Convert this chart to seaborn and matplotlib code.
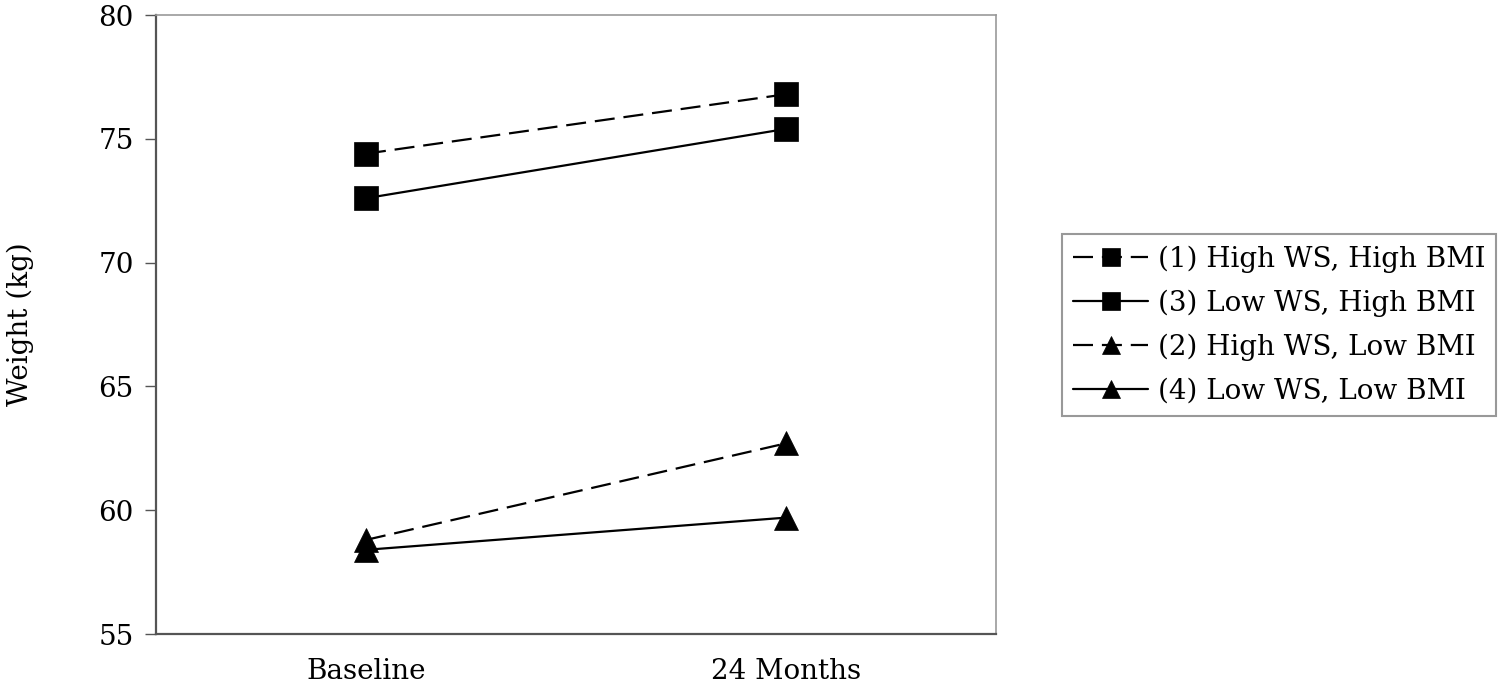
import matplotlib
matplotlib.use('Agg')
import matplotlib.pyplot as plt
import seaborn as sns
import pandas as pd
from matplotlib.ticker import FixedLocator

# data
timepoints = ['Baseline', '24 Months']
groups = ['(1) High WS, High BMI', '(3) Low WS, High BMI',
          '(2) High WS, Low BMI', '(4) Low WS, Low BMI']
hw_hb = [74.4, 76.8]
lw_hb = [72.6, 75.4]
hw_lb = [58.8, 62.7]
lw_lb = [58.4, 59.7]

series = [hw_hb, lw_hb, hw_lb, lw_lb]
df = pd.DataFrame({
    'time': timepoints * len(groups),
    'group': [g for g in groups for _ in timepoints],
    'weight': [v for s in series for v in s],
})

sns.set_style('white')
plt.rcParams['font.family'] = ['DejaVu Serif']
plt.rcParams['text.color'] = 'black'
plt.rcParams['axes.labelcolor'] = 'black'
plt.rcParams['xtick.labelcolor'] = 'black'
plt.rcParams['ytick.labelcolor'] = 'black'

fs = 20
fig = plt.figure(figsize=(15, 6.85), dpi=100)
ax = fig.add_axes([156 / 1500, 1 - 634 / 685, 840 / 1500, 619 / 685])

markers = {groups[0]: 's', groups[1]: 's', groups[2]: '^', groups[3]: '^'}
dashes = {groups[0]: (9, 4), groups[1]: '', groups[2]: (9, 4), groups[3]: ''}
palette = {g: 'black' for g in groups}

sns.lineplot(data=df, x='time', y='weight', hue='group', style='group',
             hue_order=groups, style_order=groups, palette=palette,
             markers=markers, dashes=dashes, markersize=17, linewidth=1.6,
             markeredgecolor='black', markeredgewidth=0.5, sort=False, ax=ax)

ax.set_xlim(-0.5, 1.5)
ax.set_ylim(55, 80)
ax.set_yticks([55, 60, 65, 70, 75, 80])
ax.set_xticks([0, 1])
ax.set_xticklabels(timepoints)
ax.xaxis.set_minor_locator(FixedLocator([-0.5, 0.5, 1.5]))
ax.tick_params(axis='x', which='major', length=0, labelsize=fs, pad=17)
ax.tick_params(axis='x', which='minor', length=8, width=1, color='#555555', direction='out')
ax.tick_params(axis='y', length=8, width=1, color='#555555', direction='out',
               labelsize=fs, pad=8, left=True)
ax.set_xlabel('')
ax.set_ylabel('Weight (kg)', fontsize=fs, labelpad=46)

for side in ['left', 'bottom']:
    ax.spines[side].set_color('#555555')
    ax.spines[side].set_linewidth(1.6)
for side in ['top', 'right']:
    ax.spines[side].set_color('#999999')
    ax.spines[side].set_linewidth(1.2)

leg = ax.legend(loc='center left', bbox_to_anchor=(1062 / 1500, 1 - 325 / 685),
                bbox_transform=fig.transFigure, fontsize=fs, frameon=True,
                fancybox=False, edgecolor='#808080', handlelength=2.7,
                markerscale=0.8, borderpad=0.4, labelspacing=0.6,
                handletextpad=0.35, borderaxespad=0, title=None)
leg.get_frame().set_linewidth(1.5)

fig.savefig('out.png', dpi=100)
